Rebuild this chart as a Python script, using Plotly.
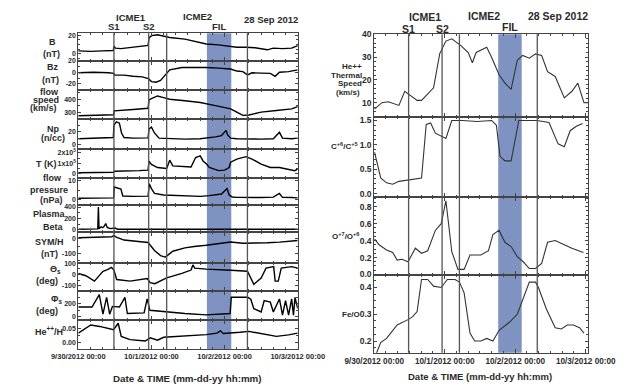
import pandas as pd
import plotly.graph_objects as go

W, H = 638, 390
BASE = pd.Timestamp("2012-09-30 00:00")

# ---- event times, hours after 30 Sep 2012 00:00 ----
S1, S2, E1, FIL0, FIL1, LAST = 11.7, 23.1, 29.0, 42.2, 50.2, 55.5

# ---- left block (in-situ plasma / field data) ----
B_H = [0, 4, 8, 11.5, 11.7, 12.2, 14, 17, 20, 22.9, 23.2, 24, 26, 28, 30, 35, 40, 42, 46, 50, 52, 55, 58, 62, 64, 67, 70, 72]
B_V = [3, 2.5, 3, 3.5, 8, 6, 5.5, 6.5, 8, 9, 17, 19.5, 20.5, 19, 17.5, 15.8, 12.3, 10.5, 9.5, 8, 7, 7, 6.5, 4.2, 6, 5.5, 6, 8.7]

BZ_H = [0, 5, 10, 11.6, 12, 15, 18, 21, 23, 24, 25.5, 27, 28.5, 30, 34, 38, 42, 46, 50, 52, 54, 55.5, 57, 60, 63, 64.6, 66, 69, 72]
BZ_V = [-1, 0, -1, -2, -5, -5, -7, -8, -11, -16, -17, -14, -5, 4, 8, 8.5, 8, 7, 5.5, 2, 1, -4.5, -1, -1.5, -2, -7, 0, 1, 4]

SP_H = [0, 4, 8, 11.6, 11.8, 14, 18, 22.9, 23.2, 24, 26, 28, 30, 35, 40, 45, 50, 52, 54, 56, 60, 65, 70, 72]
SP_V = [272, 275, 278, 280, 310, 312, 320, 330, 395, 405, 425, 412, 400, 388, 375, 350, 325, 300, 275, 278, 300, 313, 325, 343]

NP_H = [0, 4, 8, 11.5, 11.7, 12.5, 13.5, 14.2, 15, 18, 22.9, 23.2, 24, 25, 26.5, 30, 35, 40, 42, 45, 47, 48.5, 49, 50, 52, 56, 60, 64, 66, 67, 70, 72]
NP_V = [9, 9.5, 10, 11, 30, 35, 33, 18, 11, 10, 10.5, 24, 27, 18, 10, 9, 8.5, 9, 10, 12, 14, 22, 15, 10, 9, 8.5, 8.5, 9, 19, 10, 9, 10]

T_H = [0, 5, 10, 11.6, 12, 16, 20, 22.9, 23.2, 24, 26, 29, 30, 31, 34, 37, 38.5, 40, 41, 42, 43, 46, 48, 49.5, 50, 52, 55, 57, 60, 63, 66, 69, 71, 72]
T_V = [0.1, 0.12, 0.12, 0.15, 0.25, 0.25, 0.3, 0.35, 1.2, 0.9, 0.6, 0.5, 1.3, 0.75, 0.7, 0.65, 1.55, 1.7, 1.2, 0.95, 0.6, 0.3, 0.35, 0.6, 1.1, 1.4, 1.63, 1.4, 0.93, 0.6, 0.6, 0.46, 0.3, 0.45]

PR_H = [0, 5, 10, 11.6, 11.8, 13, 14, 14.6, 18, 22.9, 23.3, 24, 25, 28, 35, 40, 43, 47, 48.8, 49.5, 50.5, 52, 60, 64, 66, 67, 70, 72]
PR_V = [0.8, 0.8, 0.9, 1, 6.6, 6.2, 5.5, 2, 1.8, 1.9, 8.3, 5.8, 3.3, 2.5, 2.2, 1.8, 2.2, 3, 5.8, 2.5, 1.5, 1.3, 1.2, 1.4, 3.3, 1.3, 1.2, 1]

BE_H = [0, 3, 5, 6.4, 6.6, 6.8, 7.5, 8, 8.5, 9, 9.5, 10.5, 12, 13, 14, 20, 30, 40, 50, 60, 72]
BE_V = [8, 10, 12, 15, 400, 20, 50, 35, 60, 110, 40, 20, 30, 10, 8, 8, 8, 8, 9, 9, 9]

SY_H = [0, 4, 8, 11, 11.7, 12.5, 15, 18, 22.9, 23.5, 25, 27, 28.5, 29.5, 31, 35, 38, 42, 46, 50, 54, 58, 62, 66, 72]
SY_V = [8, 10, 12, 15, 22, 12, -8, -15, -25, -40, -80, -115, -125, -110, -85, -62, -52, -44, -35, -22, -30, -30, -27, -22, -11]

TH_H = [0, 2.5, 5.3, 8.1, 9.6, 10.9, 11.7, 12.6, 17, 21.6, 22.6, 23.6, 25.1, 29, 34, 37, 37.6, 38.2, 42, 50, 55.5, 57.6, 60, 61.6, 64.1, 64.6, 65.6, 66.6, 70, 72]
TH_V = [10, -10, -57, 29, 43, 63, 40, -43, -57, -43, -35, -71, -80, -28, 10, 40, 85, 57, 48, 38, 29, -85, -30, 57, 70, -57, -57, 57, 70, 57]

PH_H = [0, 4.5, 6.9, 8.1, 9.3, 10.3, 11.2, 13.5, 15.3, 16.1, 21.6, 22.6, 23.5, 29, 35, 42, 46, 49.8, 50.2, 55.6, 56.6, 57.6, 60, 61, 63, 64, 66, 67, 68, 69, 70, 70.6, 71.1, 72]
PH_V = [150, 150, 340, 40, 300, 40, 160, 150, 300, 50, 60, 275, 100, 75, 50, 30, 40, 50, 300, 300, 270, 125, 75, 250, 225, 75, 275, 25, 250, 25, 275, 25, 300, 125]

HE_H = [0, 1.6, 4.1, 7, 10, 11.6, 13.1, 14.1, 17, 22, 23.6, 26, 28, 34, 42, 45.5, 46.6, 47.6, 50, 53, 56, 60, 65, 69, 72]
HE_V = [0.033, 0.045, 0.061, 0.056, 0.05, 0.045, 0.067, 0.022, 0.011, 0.006, 0.017, 0.009, 0.019, 0.022, 0.028, 0.033, 0.041, 0.032, 0.033, 0.036, 0.039, 0.031, 0.022, 0.027, 0.033]

# ---- right block (heavy-ion composition) ----
HT_H = [0.1, 2.6, 4.8, 8.4, 10.4, 14.6, 16.1, 20.2, 22.3, 24.4, 26.4, 29.5, 32.0, 33.4, 34.7, 38.3, 39.9, 42.5, 44.5, 46.6, 48.7, 50.5, 52.8, 54.9, 57, 59, 61.6, 64.7, 67.3, 69.3, 71.4, 73]
HT_V = [7.2, 10.0, 10.4, 8.8, 15, 11, 11, 16.5, 31.5, 37, 38, 35, 32, 27.5, 32, 34.3, 30, 22.2, 18.6, 15.8, 28.6, 30.7, 29.5, 31.4, 30.7, 23.6, 21.5, 12.1, 15, 18.6, 10, 10]

C_H = [0.1, 2.2, 4.2, 6.3, 8.4, 11.5, 14, 16.1, 17.7, 19.2, 20.8, 22.3, 24.4, 26.4, 30, 35, 40, 41.6, 42.8, 44.5, 46.6, 49.2, 55.4, 59.5, 62.6, 64.7, 66.7, 68.8, 70.9]
C_V = [0.85, 0.32, 0.22, 0.19, 0.25, 0.28, 0.30, 0.32, 1.42, 1.45, 1.24, 1.2, 1.13, 1.5, 1.5, 1.48, 1.5, 1.4, 0.77, 0.67, 0.67, 1.5, 1.5, 1.46, 1.02, 0.96, 1.29, 1.38, 1.44]

OX_H = [0.1, 1.65, 4.2, 6.3, 7.8, 9.4, 11.5, 14.0, 16.1, 18.2, 20.8, 22.8, 24.4, 26.4, 28.5, 30.6, 32.6, 34.7, 36.3, 38.9, 40.4, 42.5, 44.5, 46.6, 48.7, 50.7, 52.8, 54.9, 57, 59, 61.6, 64.7, 67.3, 71.2]
OX_V = [0.42, 0.35, 0.29, 0.26, 0.17, 0.18, 0.15, 0.31, 0.25, 0.28, 0.52, 0.6, 0.87, 0.27, 0.06, 0.06, 0.23, 0.23, 0.23, 0.28, 0.47, 0.52, 0.38, 0.33, 0.21, 0.15, 0.07, 0.07, 0.13, 0.38, 0.40, 0.35, 0.31, 0.26]

FE_H = [0.6, 2.2, 4.2, 7.8, 11.5, 13, 14.6, 16.1, 18.2, 20.2, 22.8, 24.9, 27.5, 29, 30.6, 32.6, 34.2, 36.3, 38.3, 40.4, 42.5, 46, 48.7, 50.7, 52.8, 54.9, 55.9, 58.6, 61.6, 63.7, 65.7, 67.8, 69.9, 71.4]
FE_V = [0.15, 0.194, 0.21, 0.26, 0.28, 0.29, 0.31, 0.43, 0.43, 0.405, 0.40, 0.43, 0.43, 0.42, 0.38, 0.23, 0.20, 0.20, 0.21, 0.20, 0.24, 0.27, 0.30, 0.36, 0.42, 0.42, 0.40, 0.32, 0.25, 0.245, 0.26, 0.26, 0.25, 0.23]

FONT = "Liberation Sans, Arial, sans-serif"
INK = "#2a2a2a"
FILL = "#7f93c3"


def when(hours):
    return BASE + pd.to_timedelta(hours, unit="h")


def ts(hours):
    return when(hours).strftime("%Y-%m-%d %H:%M:%S")


def px(x):
    return x / W


def py(y):
    return 1 - y / H


LEFT = [
    dict(h=B_H, v=B_V, rng=[-7.4, 22.1], tv=[0, 20], tt=["0", "20"], mn=5),
    dict(h=BZ_H, v=BZ_V, rng=[-30, 20], tv=[-20, 0, 20], tt=["-20", "0", "20"], mn=10),
    dict(h=SP_H, v=SP_V, rng=[247, 473], tv=[300, 400], tt=["300", "400"], mn=50),
    dict(h=NP_H, v=NP_V, rng=[-7, 39.5], tv=[0, 20, 40], tt=["0", "20", "40"], mn=10),
    dict(h=T_H, v=T_V, rng=[-0.44, 2.34], tv=[0, 1, 2],
         tt=["0", "1x10<sup>5</sup>", "2x10<sup>5</sup>"], mn=0.5),
    dict(h=PR_H, v=PR_V, rng=[-2.5, 11], tv=[0, 10], tt=["0", "10"], mn=5),
    dict(h=BE_H, v=BE_V, rng=[-40, 440], tv=[0, 200, 400], tt=["0", "200", "400"], mn=100),
    dict(h=SY_H, v=SY_V, rng=[-167, 47], tv=[-100, 0], tt=["-100", "0"], mn=50),
    dict(h=TH_H, v=TH_V, rng=[-148, 100], tv=[-100, 0, 100], tt=["-100", "0", "100"], mn=50),
    dict(h=PH_H, v=PH_V, rng=[-45, 390], tv=[0, 200], tt=["0", "200"], mn=100),
    dict(h=HE_H, v=HE_V, rng=[-0.021, 0.079], tv=[0, 0.05], tt=["0.00", "0.05"], mn=0.025),
]
LEFT_EDGES = [29, 57, 87, 117, 148, 178, 205, 233, 265, 294, 323, 353]
LX0, LX1 = 53, 294

RIGHT = [
    dict(h=HT_H, v=HT_V, rng=[3.7, 40], tv=[10, 20, 30, 40], tt=["10", "20", "30", "40"], mn=2),
    dict(h=C_H, v=C_V, rng=[-0.07, 1.57], tv=[0, 0.5, 1.0, 1.5], tt=["0.0", "0.5", "1.0", "1.5"], mn=0.1),
    dict(h=OX_H, v=OX_V, rng=[-0.005, 0.915], tv=[0, 0.2, 0.4, 0.6, 0.8],
         tt=["0.0", "0.2", "0.4", "0.6", "0.8"], mn=0.05),
    dict(h=FE_H, v=FE_V, rng=[0.156, 0.447], tv=[0.2, 0.3, 0.4], tt=["0.2", "0.3", "0.4"], mn=0.025),
]
RIGHT_EDGES = [30, 115, 197, 277, 357]
RX0, RX1 = 378, 613

fig = go.Figure()
layout = dict(
    width=W, height=H, margin=dict(l=0, r=0, t=0, b=0),
    paper_bgcolor="white", plot_bgcolor="rgba(0,0,0,0)",
    showlegend=False, font=dict(family=FONT, color=INK),
)


def add_panel(idx, p, top, bot, x0, x1, xmax, last, tsize, xtsize):
    xa = "xaxis" if idx == 1 else f"xaxis{idx}"
    ya = "yaxis" if idx == 1 else f"yaxis{idx}"
    xr = "x" if idx == 1 else f"x{idx}"
    yr = "y" if idx == 1 else f"y{idx}"
    left = x0 < 300
    fig.add_trace(go.Scatter(
        x=when(p["h"]), y=p["v"], mode="lines", xaxis=xr, yaxis=yr,
        line=dict(color="black" if left else "#333", width=1.4 if left else 1.1),
        hoverinfo="skip"))
    layout[xa] = dict(
        domain=[px(x0), px(x1)], anchor=yr, type="date",
        range=[ts(0), ts(xmax)], showgrid=False, zeroline=False,
        showline=True, linecolor="#444", linewidth=1, mirror="allticks",
        ticks="inside", ticklen=4, tickcolor="#444", tickwidth=1,
        dtick=86400000, tick0=ts(0), tickformat="%-m/%-d/%Y %H:%M",
        minor=dict(ticks="inside", ticklen=2, dtick=4 * 3600000, tickcolor="#444"),
        showticklabels=last,
        tickfont=dict(family=FONT, size=xtsize, color=INK, weight="bold"),
    )
    layout[ya] = dict(
        domain=[py(bot), py(top)], anchor=xr, range=p["rng"],
        showgrid=False, zeroline=False, showline=True, linecolor="#444",
        linewidth=1, mirror="allticks", ticks="inside", ticklen=3,
        tickcolor="#444", tickvals=p["tv"], ticktext=p["tt"],
        minor=dict(ticks="inside", ticklen=2, dtick=p["mn"], tickcolor="#444"),
        tickfont=dict(family=FONT, size=tsize, color=INK, weight="bold"),
    )


for i, p in enumerate(LEFT):
    add_panel(i + 1, p, LEFT_EDGES[i], LEFT_EDGES[i + 1], LX0, LX1, 72,
              i == len(LEFT) - 1, 7, 7.5)
NL = len(LEFT)
for j, p in enumerate(RIGHT):
    add_panel(NL + j + 1, p, RIGHT_EDGES[j], RIGHT_EDGES[j + 1], RX0, RX1, 72.85,
              j == len(RIGHT) - 1, 8.5, 8.2)

LXREF = "x"
RXREF = f"x{NL + 1}"

shapes = []
for xref, top, bot in [(LXREF, LEFT_EDGES[0], LEFT_EDGES[-1]),
                       (RXREF, RIGHT_EDGES[0], RIGHT_EDGES[-1])]:
    shapes.append(dict(type="rect", xref=xref, yref="paper", x0=ts(FIL0), x1=ts(FIL1),
                       y0=py(bot), y1=py(top), fillcolor=FILL, line=dict(width=0),
                       layer="below"))
    for tt in [S1, S2, E1, LAST]:
        shapes.append(dict(type="line", xref=xref, yref="paper", x0=ts(tt), x1=ts(tt),
                           y0=py(bot), y1=py(top), line=dict(color="#555", width=1.3)))
layout["shapes"] = shapes

ann = []


def txt(text, x, y, size, xref="paper", xanchor="center"):
    ann.append(dict(text=f"<b>{text}</b>", x=x, y=y, xref=xref, yref="paper",
                    showarrow=False, xanchor=xanchor, yanchor="middle",
                    borderpad=0,
                    font=dict(family=FONT, size=size, color=INK)))


# headers
for xref, yb, ys, yi, size, icme2, dpos, dy in [
        (LXREF, 13, 22, 22, 9.5, 39.0, 265, 15),
        (RXREF, 12, 25, 23, 10.5, 37.2, 580, 11)]:
    txt("ICME1", ts((S1 + S2) / 2), py(yb), size, xref)
    txt("S1", ts(S1), py(ys), size, xref)
    txt("S2", ts(S2), py(ys), size, xref)
    txt("ICME2", ts(icme2), py(yb - 1), size, xref)
    txt("FIL", ts((FIL0 + FIL1) / 2), py(yi), size, xref)
    txt("28 Sep 2012", px(dpos), py(dy), size)

# left y titles
LEFT_TITLES = [
    ("B", 25, 38), ("(nT)", 24, 50),
    ("Bz", 25, 64), ("(nT)", 23, 77),
    ("flow", 21, 89), ("speed", 18, 97), ("(km/s)", 15, 106),
    ("Np", 26, 127), ("(n/cc)", 25, 137),
    ("T (K)", 18, 163),
    ("flow", 25, 178), ("pressure", 21, 190), ("(nPa)", 24, 200),
    ("Plasma", 21, 215), ("Beta", 26, 228),
    ("SYM/H", 21, 243), ("(nT)", 21, 256),
    ("Θ<sub>s</sub>", 28, 271), ("(deg)", 19, 283),
    ("Φ<sub>s</sub>", 29, 302), ("(deg)", 19, 314),
    ("He<sup>++</sup>/H", 21, 335),
]
for t_, x_, y_ in LEFT_TITLES:
    txt(t_, px(x_), py(y_), 9)

RIGHT_TITLES = [
    ("He++", 354, 63), ("Thermal", 348, 72), ("Speed", 351, 81), ("(km/s)", 349, 90),
    ("C<sup>+6</sup>/C<sup>+5</sup>", 345, 145),
    ("O<sup>+7</sup>/O<sup>+6</sup>", 346, 237),
    ("Fe/O", 353, 318),
]
for t_, x_, y_ in RIGHT_TITLES:
    txt(t_, px(x_), py(y_), 8)

txt("Date &amp; TIME (mm-dd-yy hh:mm)", px(173), py(383), 9.8)
txt("Date &amp; TIME (mm-dd-yy hh:mm)", px(494), py(381), 9.5)

layout["annotations"] = ann
fig.update_layout(**layout)
fig.write_html(
    "out.html",
    config={"displayModeBar": False},
    post_script="document.body.style.margin='0';document.body.style.padding='0';"
                "document.documentElement.style.overflow='hidden';",
)
